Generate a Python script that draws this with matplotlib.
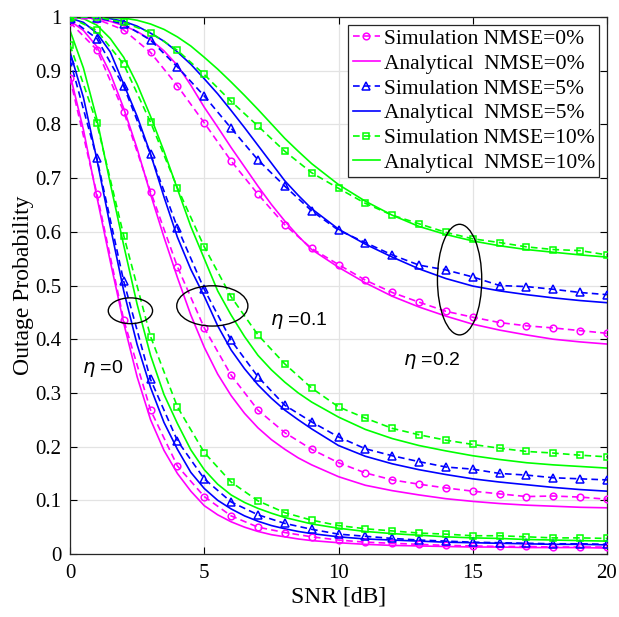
import matplotlib
matplotlib.use("Agg")
import matplotlib.pyplot as plt
from matplotlib.patches import Ellipse

plt.rcParams['font.family'] = ['Liberation Serif', 'DejaVu Serif']

# ---------------- data ----------------
snr_sim = list(range(0, 21))
snr_ana = [0, 0.5, 1, 1.5, 2, 2.5, 3, 3.5, 4, 4.5, 5, 5.5, 6, 6.5, 7, 7.5, 8, 8.5, 9,
           10, 11, 12, 13, 14, 15, 16, 17, 18, 19, 20]

# simulation, eta = 0
sim_eta0_n0 = [0.886, 0.671, 0.436, 0.268, 0.164, 0.107, 0.071, 0.050, 0.040, 0.032, 0.026,
               0.022, 0.020, 0.018, 0.016, 0.015, 0.014, 0.014, 0.013, 0.013, 0.013]
sim_eta0_n5 = [0.920, 0.737, 0.508, 0.325, 0.211, 0.140, 0.097, 0.073, 0.057, 0.046, 0.037,
               0.033, 0.029, 0.026, 0.024, 0.022, 0.021, 0.020, 0.019, 0.019, 0.018]
sim_eta0_n10 = [0.948, 0.802, 0.593, 0.405, 0.274, 0.189, 0.134, 0.099, 0.077, 0.063, 0.053,
                0.047, 0.043, 0.039, 0.037, 0.034, 0.034, 0.032, 0.030, 0.030, 0.029]
# simulation, eta = 0.1
sim_eta1_n0 = [0.990, 0.939, 0.824, 0.675, 0.535, 0.421, 0.333, 0.268, 0.226, 0.195, 0.170,
               0.151, 0.138, 0.130, 0.123, 0.117, 0.112, 0.107, 0.108, 0.106, 0.102]
sim_eta1_n5 = [0.997, 0.960, 0.871, 0.744, 0.608, 0.493, 0.398, 0.330, 0.277, 0.246, 0.218,
               0.196, 0.183, 0.172, 0.162, 0.158, 0.150, 0.147, 0.142, 0.140, 0.138]
sim_eta1_n10 = [0.999, 0.975, 0.912, 0.804, 0.682, 0.572, 0.479, 0.408, 0.354, 0.309, 0.274,
                0.253, 0.234, 0.222, 0.212, 0.204, 0.197, 0.191, 0.188, 0.184, 0.181]
# simulation, eta = 0.2
sim_eta2_n0 = [0.998, 0.996, 0.976, 0.934, 0.872, 0.803, 0.732, 0.670, 0.613, 0.569, 0.539,
               0.510, 0.487, 0.469, 0.452, 0.441, 0.431, 0.425, 0.421, 0.416, 0.411]
sim_eta2_n5 = [1.000, 0.999, 0.987, 0.957, 0.907, 0.853, 0.793, 0.734, 0.685, 0.639, 0.603,
               0.580, 0.557, 0.538, 0.529, 0.516, 0.500, 0.498, 0.493, 0.487, 0.483]
sim_eta2_n10 = [1.000, 1.000, 0.990, 0.971, 0.938, 0.893, 0.843, 0.797, 0.750, 0.710, 0.681,
                0.653, 0.631, 0.615, 0.599, 0.587, 0.580, 0.572, 0.567, 0.565, 0.557]

# analytical, eta = 0
ana_eta0_n0 = [0.893, 0.790, 0.665, 0.545, 0.430, 0.330, 0.250, 0.193, 0.150, 0.117, 0.090,
               0.073, 0.060, 0.050, 0.042, 0.036, 0.032, 0.028, 0.025,
               0.021, 0.018, 0.016, 0.015, 0.014, 0.013, 0.013, 0.012, 0.012, 0.012, 0.011]
ana_eta0_n5 = [0.935, 0.850, 0.735, 0.610, 0.490, 0.390, 0.310, 0.245, 0.195, 0.152, 0.122,
               0.100, 0.084, 0.071, 0.061, 0.053, 0.047, 0.042, 0.038,
               0.032, 0.028, 0.026, 0.024, 0.022, 0.021, 0.020, 0.019, 0.018, 0.018, 0.017]
ana_eta0_n10 = [0.975, 0.905, 0.810, 0.690, 0.575, 0.465, 0.370, 0.297, 0.243, 0.194, 0.157,
                0.130, 0.110, 0.096, 0.085, 0.076, 0.068, 0.062, 0.056,
                0.048, 0.042, 0.038, 0.035, 0.032, 0.030, 0.029, 0.027, 0.026, 0.025, 0.024]
# analytical, eta = 0.1
ana_eta1_n0 = [0.993, 0.975, 0.945, 0.895, 0.830, 0.755, 0.670, 0.590, 0.515, 0.445, 0.385,
               0.335, 0.295, 0.262, 0.235, 0.213, 0.195, 0.179, 0.166,
               0.144, 0.128, 0.118, 0.110, 0.103, 0.098, 0.094, 0.091, 0.089, 0.087, 0.086]
ana_eta1_n5 = [0.998, 0.990, 0.970, 0.935, 0.875, 0.815, 0.745, 0.665, 0.590, 0.530, 0.480,
               0.425, 0.380, 0.345, 0.315, 0.290, 0.268, 0.250, 0.233,
               0.202, 0.182, 0.168, 0.157, 0.148, 0.140, 0.134, 0.129, 0.124, 0.120, 0.117]
ana_eta1_n10 = [1.000, 0.997, 0.985, 0.960, 0.925, 0.875, 0.815, 0.750, 0.680, 0.610, 0.550,
                0.490, 0.445, 0.405, 0.370, 0.343, 0.320, 0.300, 0.283,
                0.255, 0.232, 0.215, 0.202, 0.192, 0.183, 0.176, 0.170, 0.166, 0.163, 0.160]
# analytical, eta = 0.2
ana_eta2_n0 = [1.000, 0.999, 0.997, 0.992, 0.984, 0.973, 0.958, 0.937, 0.910, 0.873, 0.832,
               0.795, 0.757, 0.721, 0.685, 0.651, 0.620, 0.592, 0.567,
               0.534, 0.505, 0.480, 0.460, 0.443, 0.428, 0.417, 0.408, 0.400, 0.395, 0.391]
ana_eta2_n5 = [1.000, 1.000, 0.999, 0.997, 0.992, 0.983, 0.970, 0.955, 0.935, 0.912, 0.885,
               0.857, 0.826, 0.794, 0.761, 0.728, 0.695, 0.668, 0.643,
               0.605, 0.577, 0.553, 0.531, 0.513, 0.499, 0.490, 0.483, 0.477, 0.472, 0.468]
ana_eta2_n10 = [1.000, 1.000, 1.000, 0.999, 0.998, 0.994, 0.987, 0.977, 0.963, 0.946, 0.925,
                0.903, 0.879, 0.854, 0.828, 0.801, 0.774, 0.750, 0.727,
                0.688, 0.657, 0.631, 0.610, 0.595, 0.583, 0.574, 0.567, 0.562, 0.557, 0.553]

labels_sim = ['Simulation NMSE=0%', 'Simulation NMSE=5%', 'Simulation NMSE=10%']
labels_ana = ['Analytical  NMSE=0%', 'Analytical  NMSE=5%', 'Analytical  NMSE=10%']
eta_labels = [r'$\eta$ =0', r'$\eta$ =0.1', r'$\eta$ =0.2']

sims = [[sim_eta0_n0, sim_eta1_n0, sim_eta2_n0],
        [sim_eta0_n5, sim_eta1_n5, sim_eta2_n5],
        [sim_eta0_n10, sim_eta1_n10, sim_eta2_n10]]
anas = [[ana_eta0_n0, ana_eta1_n0, ana_eta2_n0],
        [ana_eta0_n5, ana_eta1_n5, ana_eta2_n5],
        [ana_eta0_n10, ana_eta1_n10, ana_eta2_n10]]

colors = ['#FF00FF', '#0000FF', '#00FF00']
markers = ['o', '^', 's']
msizes = [4.8, 5.2, 3.8]

# ---------------- figure ----------------
fig = plt.figure(figsize=(6.19, 6.17), dpi=100)
ax = fig.add_axes([0.1131, 0.1021, 0.8675, 0.8703])

handles = []
for k in range(3):
    for j in range(3):
        ls, = ax.plot(snr_sim, sims[k][j], linestyle=(0, (4, 2.5)), color=colors[k], lw=1.2,
                      marker=markers[k], ms=msizes[k], mfc='none', mew=1.1,
                      label=labels_sim[k] if j == 0 else None, zorder=3)
        la, = ax.plot(snr_ana, anas[k][j], linestyle='-', color=colors[k], lw=1.2,
                      label=labels_ana[k] if j == 0 else None, zorder=2)
        if j == 0:
            hs, ha = ls, la
    handles += [hs, ha]

# ellipses and eta annotations
ell_kw = dict(fill=False, edgecolor='black', lw=1.0, zorder=4)
ax.add_patch(Ellipse((2.25, 0.453), 1.65, 0.048, **ell_kw))
ax.add_patch(Ellipse((5.30, 0.462), 2.65, 0.075, **ell_kw))
ax.add_patch(Ellipse((14.51, 0.511), 1.65, 0.206, **ell_kw))

eta_fs = 14
ax.text(0.45, 0.346, eta_labels[0], fontsize=eta_fs, family='Liberation Sans', va='center')
ax.text(7.45, 0.434, eta_labels[1], fontsize=eta_fs, family='Liberation Sans', va='center')
ax.text(12.4, 0.361, eta_labels[2], fontsize=eta_fs, family='Liberation Sans', va='center')

ax.set_xlim(0, 20)
ax.set_ylim(0, 1)
ax.set_xticks([0, 5, 10, 15, 20])
ax.set_yticks([i / 10 for i in range(11)])
ax.set_yticklabels(['0', '0.1', '0.2', '0.3', '0.4', '0.5', '0.6', '0.7', '0.8', '0.9', '1'])
ax.tick_params(direction='in', top=True, right=True, labelsize=15, length=5, width=0.8)
ax.tick_params(axis='x', pad=7)
ax.tick_params(axis='y', pad=6)
ax.grid(True, color='#e3e3e3', lw=0.9)
ax.set_axisbelow(True)
for s in ax.spines.values():
    s.set_linewidth(0.9)
    s.set_color('#262626')

ax.set_xlabel('SNR [dB]', fontsize=17, labelpad=3)
ax.set_ylabel('Outage Probability', fontsize=17, labelpad=1)

leg = ax.legend(handles=handles, loc='upper right', fontsize=15.5, frameon=True,
                fancybox=False, edgecolor='#262626', framealpha=1, handlelength=1.25,
                handletextpad=0.2, labelspacing=0.22, borderpad=0.2, borderaxespad=0.35)
leg.get_frame().set_linewidth(0.9)

fig.savefig('out.png', dpi=100)
